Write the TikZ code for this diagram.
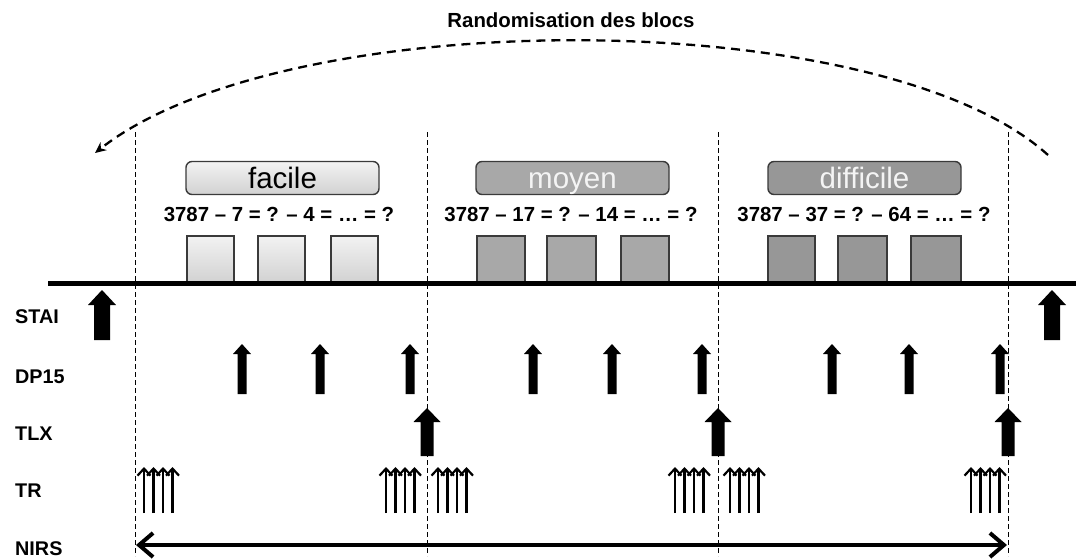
\documentclass[tikz,border=0pt]{standalone}
\usepackage{fontspec}
\setmainfont{Liberation Sans}
\usetikzlibrary{arrows.meta}
\definecolor{boxline}{HTML}{3A3A3A}
\definecolor{midgray}{HTML}{A8A8A8}
\definecolor{darkgray2}{HTML}{979797}
\definecolor{lighttop}{HTML}{F2F2F2}
\definecolor{lightbot}{HTML}{D2D2D2}
\definecolor{paletext}{HTML}{F4F4F4}
\newcommand\blkarrow[6]{% x, ytop, ybottom, shaft width, head width, head height
  \fill (#1-#5/2,#2+#6) -- (#1,#2) -- (#1+#5/2,#2+#6) -- (#1+#4/2,#2+#6)
    -- (#1+#4/2,#3) -- (#1-#4/2,#3) -- (#1-#4/2,#2+#6) -- cycle;}
\begin{document}
\begin{tikzpicture}[x=1pt,y=-1pt,
  lblbox/.style={draw=boxline, line width=1.4pt, rounded corners=6pt,
    minimum width=193pt, minimum height=33pt, inner sep=0pt,
    text height=21pt, text depth=0pt, font=\fontsize{29.5}{32}\selectfont},
  smallbox/.style={draw=boxline, line width=1.4pt},
  eqtext/.style={font=\fontsize{20.4}{24}\bfseries, anchor=base},
  rowlabel/.style={font=\fontsize{19.8}{24}\bfseries, anchor=base west, inner sep=0pt},
  sep/.style={line width=0.9pt, dash pattern=on 5pt off 3pt},
  tr/.style={line width=2.2pt, -{Straight Barb[length=7pt,width=13pt]}},
  lightfill/.style={top color=lighttop, bottom color=lightbot}
]
\useasboundingbox (0,0) rectangle (1076,558);

% title and randomisation arc
\node[font=\fontsize{20.4}{24}\bfseries, anchor=base] (title) at (571,27) {Randomisation des blocs};
\coordinate (arcR) at (1048,155);
\coordinate (arcL) at (95,153);
\draw[line width=2.3pt, dash pattern=on 9pt off 6pt, -{Stealth[length=11pt,width=10pt]}]
  (arcR) .. controls (880,3) and (285,3) .. (arcL);

% vertical separators
\foreach \x/\n in {135/s0,427/s1,718/s2,1008/s3}{
  \coordinate (\n t) at (\x,132);
  \coordinate (\n b) at (\x,556);
  \draw[sep] (\n t) -- (\n b);
}

% label boxes
\node[lblbox, lightfill] (facile) at (282.5,178) {facile};
\node[lblbox, fill=midgray, text=paletext] (moyen) at (572.5,178) {moyen};
\node[lblbox, fill=darkgray2, text=paletext] (difficile) at (864.5,178) {difficile};

% equations
\node[eqtext] (eq1) at (279,221) {3787 – 7 = ? – 4 = … = ?};
\node[eqtext] (eq2) at (571,221) {3787 – 17 = ? – 14 = … = ?};
\node[eqtext] (eq3) at (864,221) {3787 – 37 = ? – 64 = … = ?};

% block squares
\foreach \a in {187,258,331}{\draw[smallbox, lightfill] (\a,236) rectangle ++(47,46);}
\foreach \a/\w in {477/48,547/49,621/48}{\draw[smallbox, fill=midgray] (\a,236) rectangle ++(\w,46);}
\foreach \a/\w in {768/47,838/49,911/50}{\draw[smallbox, fill=darkgray2] (\a,236) rectangle ++(\w,46);}

% timeline
\coordinate (tlL) at (48,283);
\coordinate (tlR) at (1076,283);
\draw[line width=5pt] (tlL) -- (tlR);

% row labels
\node[rowlabel] (lSTAI) at (15,323) {STAI};
\node[rowlabel] (lDP) at (15,383) {DP15};
\node[rowlabel] (lTLX) at (15,440) {TLX};
\node[rowlabel] (lTR) at (15,497) {TR};
\node[rowlabel] (lNIRS) at (15,555) {NIRS};

% STAI arrows
\blkarrow{102}{290}{340}{16}{28}{15}
\blkarrow{1052}{290}{340}{16}{28}{15}

% DP15 arrows
\foreach \x in {242,320,410,533,612,702,832,909,1000}{\blkarrow{\x}{344}{394}{9}{18}{10}}

% TLX arrows
\foreach \x in {427,718,1008}{\blkarrow{\x}{408}{456}{13}{27}{14}}

% TR arrows
\foreach \s in {144,386,438,675,730,971}{
  \foreach \k in {0,1,2,3}{
    \draw[tr] (\s+9.5*\k,513) -- (\s+9.5*\k,467);
  }
}

% NIRS double arrow
\coordinate (nL) at (136,545);
\coordinate (nR) at (1007,545);
\draw[line width=4pt, {Straight Barb[length=14pt,width=24pt]}-{Straight Barb[length=14pt,width=24pt]}] (nL) -- (nR);
\end{tikzpicture}
\end{document}
